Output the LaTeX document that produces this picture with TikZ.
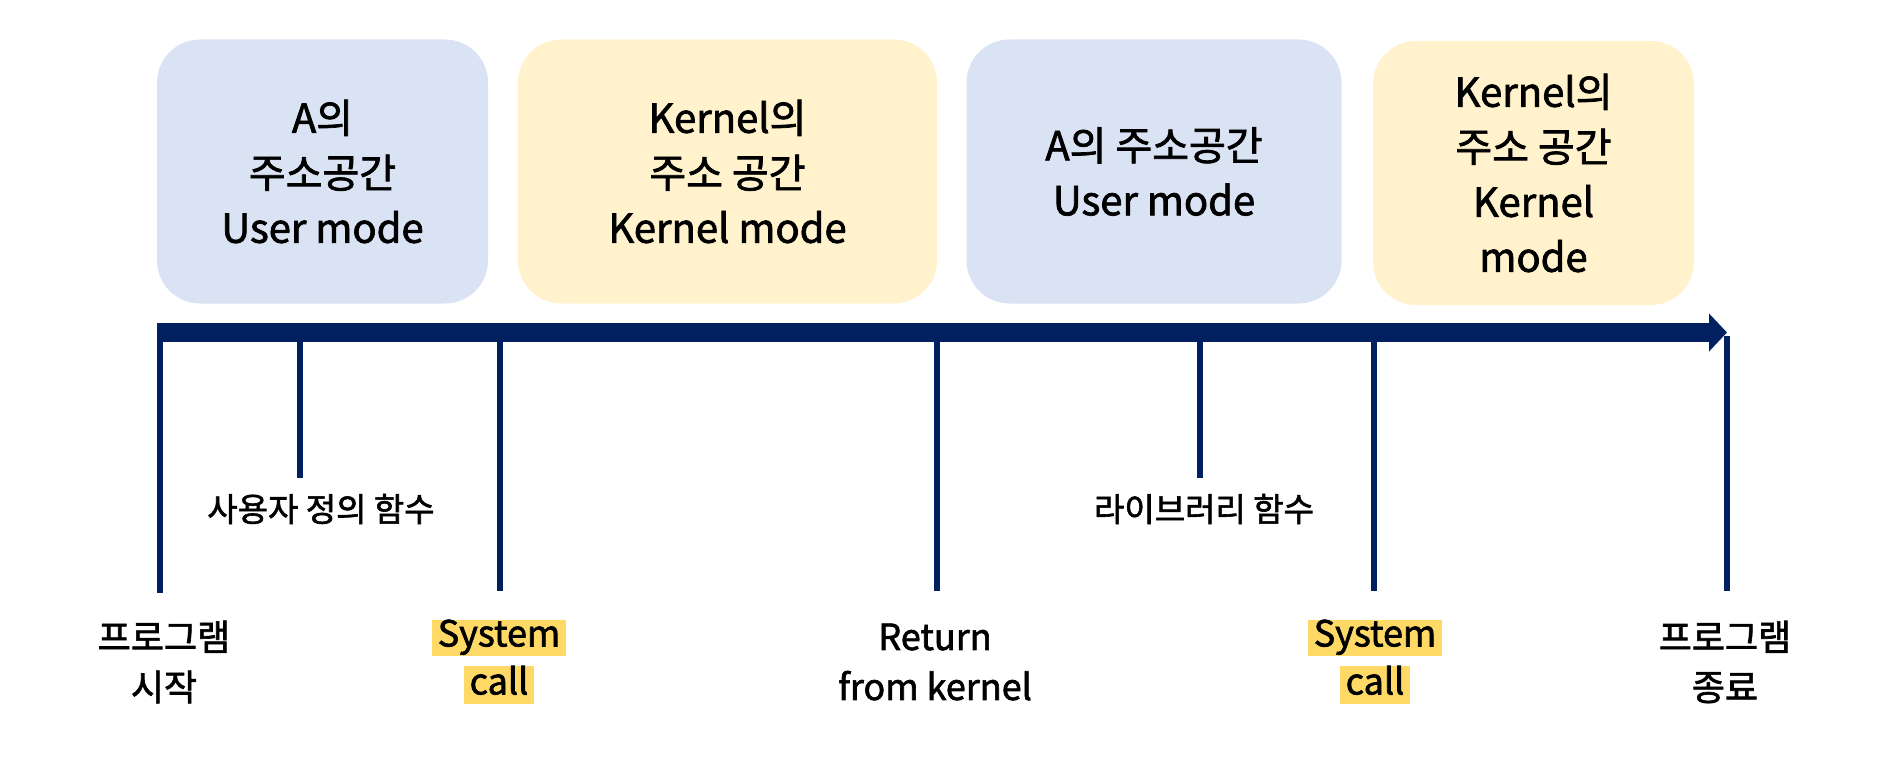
\documentclass[tikz,border=0pt]{standalone}
\usepackage{fontspec}
\setmainfont{Noto Sans CJK KR}[FakeBold=1.8]
\usetikzlibrary{arrows.meta}
\definecolor{navy}{HTML}{002060}
\definecolor{bluebox}{HTML}{DAE3F3}
\definecolor{yellowbox}{HTML}{FFF2CC}
\definecolor{hl}{HTML}{FFD966}
\newcommand{\hlbox}[1]{{\setlength{\fboxsep}{0pt}\colorbox{hl}{\rule[-10pt]{0pt}{31pt}\,#1\,}}}
\begin{document}
\begin{tikzpicture}[x=1pt,y=-1pt,
  modebox/.style={rounded corners=43pt, inner sep=0pt, align=center,
    minimum height=264pt, font=\fontsize{40}{55}\selectfont},
  userbox/.style={modebox, fill=bluebox},
  kernbox/.style={modebox, fill=yellowbox},
  axis/.style={navy, line width=19pt, -{Triangle[length=18pt,width=37pt]}},
  tick/.style={navy, line width=6pt},
  biglabel/.style={align=center, inner sep=0pt, font=\fontsize{36}{50}\selectfont},
  smalllabel/.style={inner sep=0pt, font=\fontsize{33}{36}\selectfont}]
\useasboundingbox (0,0) rectangle (1897,770);

% mode boxes
\node[userbox, minimum width=331pt] (b1) at (322.5,171.5) {A의\\주소공간\\User mode};
\node[kernbox, minimum width=419pt] (b2) at (727.5,171.5) {Kernel의\\주소 공간\\Kernel mode};
\node[userbox, minimum width=375pt] (b3) at (1154,171.5) {A의 주소공간\\User mode};
\node[kernbox, minimum width=321pt] (b4) at (1533.5,173) {Kernel의\\주소 공간\\Kernel\\mode};

% time axis
\coordinate (ax0) at (157,332.5);
\coordinate (ax1) at (1727,332.5);
\draw[axis] (ax0) -- (ax1);

% ticks
\coordinate (t1a) at (160,332); \coordinate (t1b) at (160,593);
\coordinate (t2a) at (300,332); \coordinate (t2b) at (300,478);
\coordinate (t3a) at (500,332); \coordinate (t3b) at (500,591);
\coordinate (t4a) at (937,332); \coordinate (t4b) at (937,591);
\coordinate (t5a) at (1200,332); \coordinate (t5b) at (1200,478);
\coordinate (t6a) at (1374,332); \coordinate (t6b) at (1374,591);
\coordinate (t7a) at (1727,336); \coordinate (t7b) at (1727,591);
\foreach \i in {1,...,7} \draw[tick] (t\i a) -- (t\i b);

% labels
\node[smalllabel] (l1) at (321,509) {사용자 정의 함수};
\node[smalllabel] (l2) at (1204,509) {라이브러리 함수};

\node[biglabel] (p1) at (164,662) {프로그램\\시작};
\node[biglabel] (p2) at (499,662) {\hlbox{System}\\[-2pt]\hlbox{call}};
\node[biglabel] (p3) at (935,662) {Return\\from kernel};
\node[biglabel] (p4) at (1375,662) {\hlbox{System}\\[-2pt]\hlbox{call}};
\node[biglabel] (p5) at (1725,662) {프로그램\\종료};
\end{tikzpicture}
\end{document}
